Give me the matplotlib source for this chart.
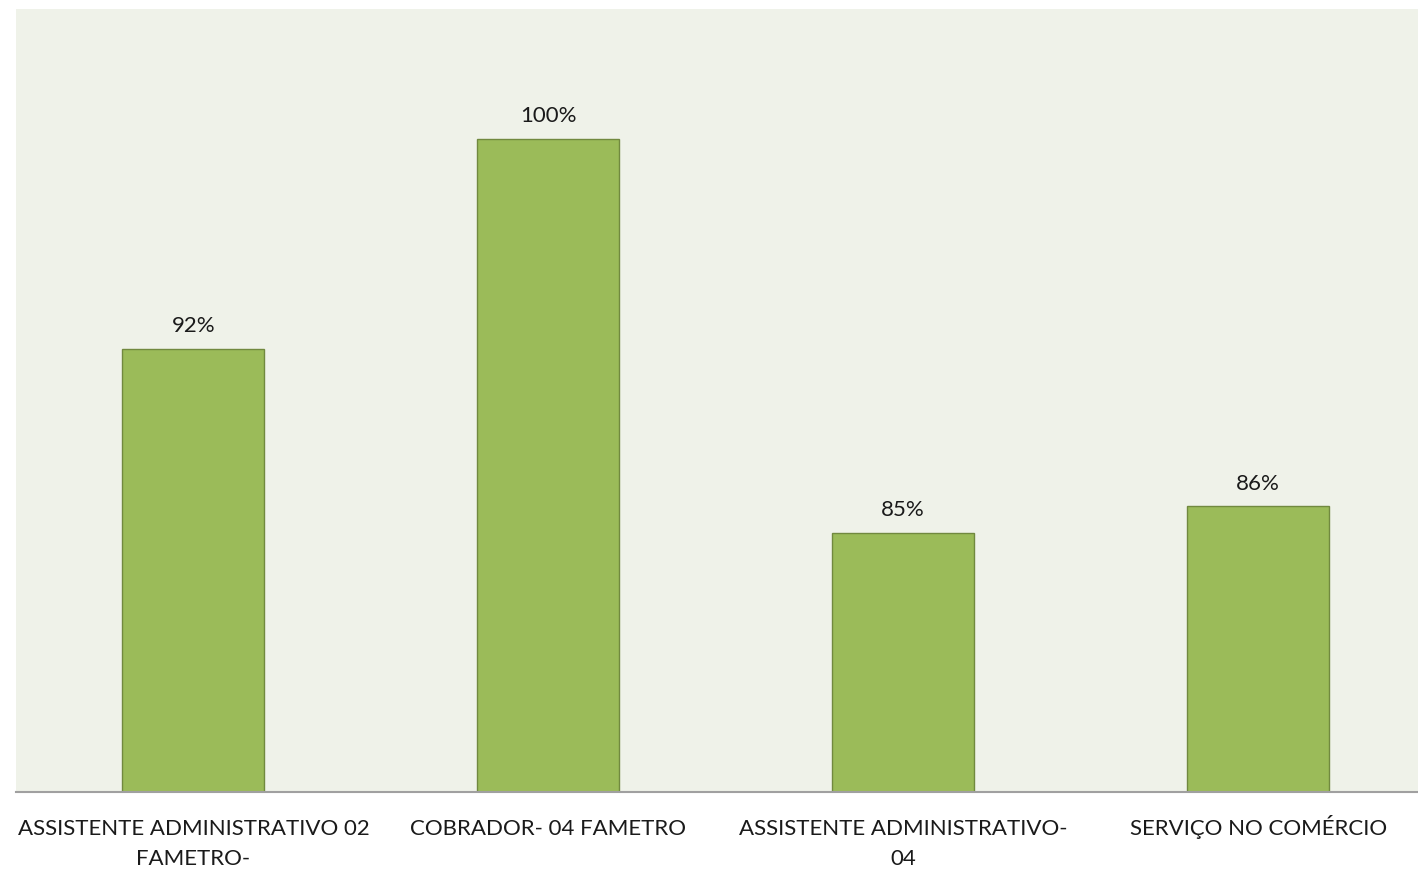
import matplotlib.pyplot as plt

categories = ["ASSISTENTE ADMINISTRATIVO 02\nFAMETRO-",
              "COBRADOR- 04 FAMETRO",
              "ASSISTENTE ADMINISTRATIVO-\n04",
              "SERVIÇO NO COMÉRCIO"]
values = [0.92, 1.00, 0.85, 0.86]

plt.rcParams["font.family"] = ["Lato", "DejaVu Sans"]

fig = plt.figure(figsize=(14.18, 8.70), dpi=100)
# plot area runs off the right edge in the original
ax = fig.add_axes([16 / 1418, 1 - 793 / 870, (1435.5 - 16) / 1418, 783 / 870])
ax.set_facecolor("#EFF2E9")

x = range(len(categories))
bars = ax.bar(x, values, width=0.4, color="#9BBB59", edgecolor="#71893F", linewidth=1)

for b, v in zip(bars, values):
    ax.annotate(f"{v:.0%}", (b.get_x() + b.get_width() / 2, v),
                xytext=(0, 10), textcoords="offset points",
                ha="center", va="bottom", fontsize=16, color="#1a1a1a")

# category labels: one text per line so the first-line baselines line up
for i, lab in zip(x, categories):
    for k, line in enumerate(lab.split("\n")):
        ax.annotate(line, (i, 0), xycoords=("data", "axes fraction"),
                    xytext=(0, -30 - 21.6 * k), textcoords="offset points",
                    ha="center", va="baseline", fontsize=16, color="#1a1a1a",
                    annotation_clip=False)

ax.set_xlim(-0.5, 3.5)
ax.set_ylim(0.7512, 1.0495)
ax.set_xticks([])
ax.set_yticks([])
for s in ["top", "left", "right"]:
    ax.spines[s].set_visible(False)
ax.spines["bottom"].set_color("#A0A0A0")
ax.spines["bottom"].set_linewidth(1.5)

fig.savefig("out.png", dpi=100)
